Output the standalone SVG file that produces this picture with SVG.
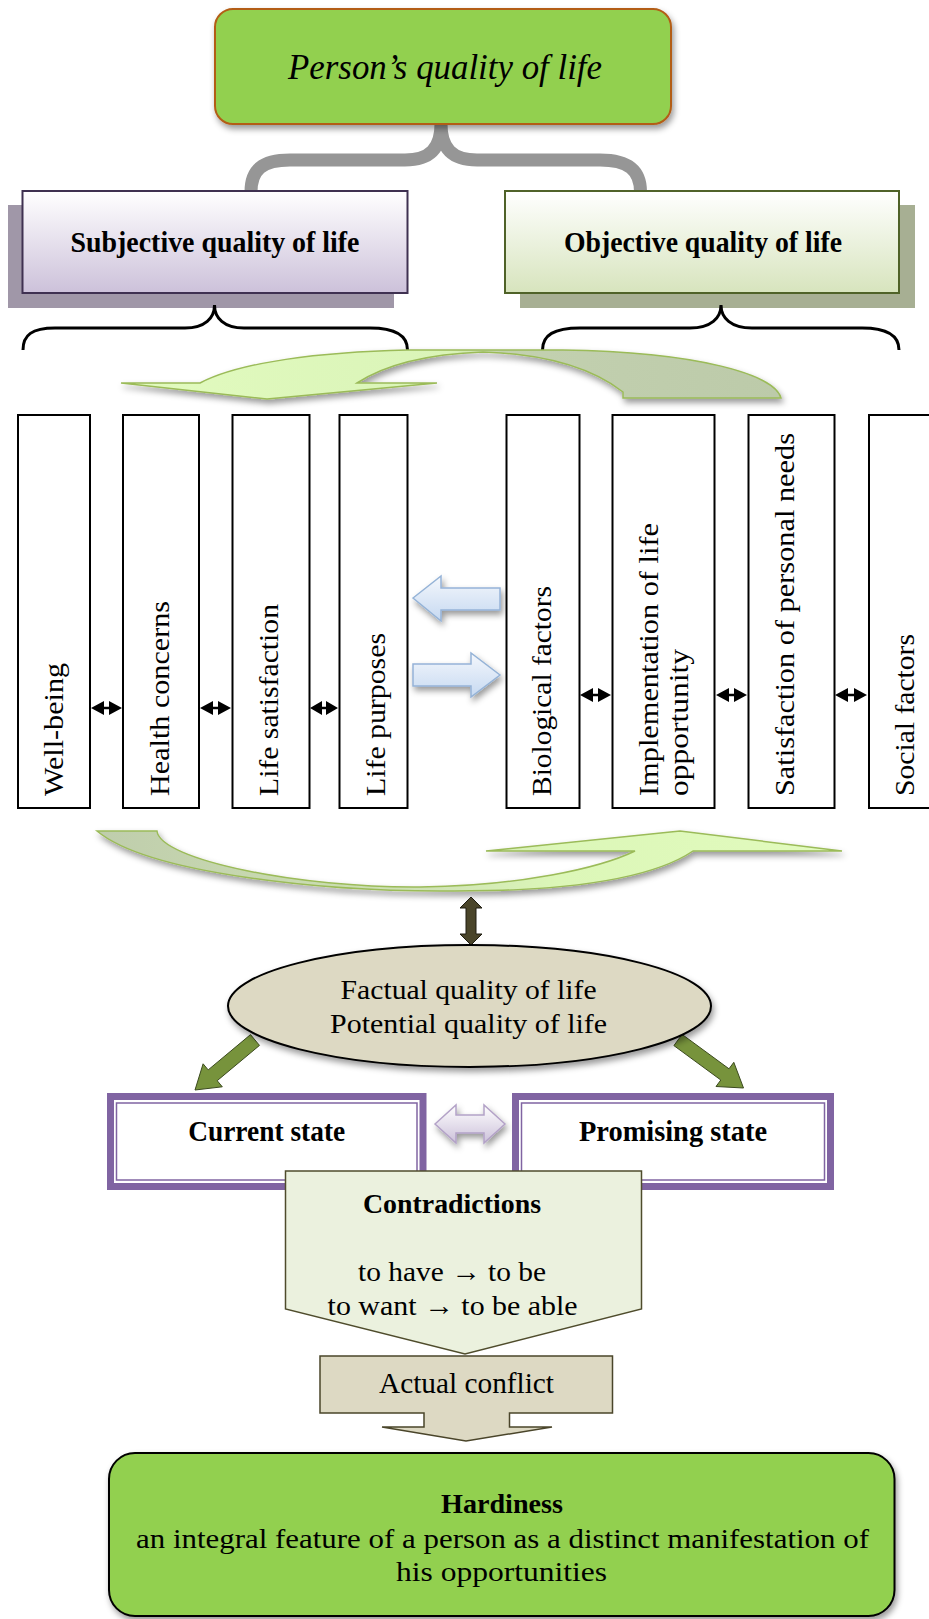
<svg xmlns="http://www.w3.org/2000/svg" width="929" height="1619" viewBox="0 0 929 1619">
<defs>
<style>
.t{font-family:"Liberation Serif","DejaVu Serif",serif;fill:#000}
.c{text-anchor:middle}
.b{font-weight:bold}
.vt{font-size:28px}
.vbox{fill:#fff;stroke:#000;stroke-width:2}
.dbl{fill:#000}
.state-o{fill:#fff;stroke:#8064a2;stroke-width:7}
.state-i{fill:none;stroke:#8064a2;stroke-width:1.5}
.blue{fill:url(#gBlue);stroke:#95b3d7;stroke-width:1.5}
.garr{fill:#77933c;stroke:#3b4a1e;stroke-width:1}
</style>
<filter id="sh" x="-15%" y="-15%" width="135%" height="150%">
<feDropShadow dx="2" dy="4" stdDeviation="3" flood-color="#000" flood-opacity="0.4"/>
</filter>
<linearGradient id="gSub" x1="0" y1="0" x2="0" y2="1">
<stop offset="0" stop-color="#ffffff"/><stop offset="1" stop-color="#ccc1da"/>
</linearGradient>
<linearGradient id="gObj" x1="0" y1="0" x2="0" y2="1">
<stop offset="0" stop-color="#ffffff"/><stop offset="1" stop-color="#d7e4bd"/>
</linearGradient>
<linearGradient id="gBlue" x1="0" y1="0" x2="0" y2="1">
<stop offset="0" stop-color="#f4f7fc"/><stop offset="1" stop-color="#c6d9f1"/>
</linearGradient>
<linearGradient id="gPur" x1="0" y1="0" x2="0" y2="1">
<stop offset="0" stop-color="#ffffff"/><stop offset="1" stop-color="#ccc1da"/>
</linearGradient>
<linearGradient id="gTop" gradientUnits="userSpaceOnUse" x1="121" y1="0" x2="781" y2="0">
<stop offset="0" stop-color="#e2fbbf"/><stop offset="0.5" stop-color="#daf4b8"/><stop offset="0.58" stop-color="#c3d1b0"/><stop offset="1" stop-color="#bccaa9"/>
</linearGradient>
<linearGradient id="gBot" gradientUnits="userSpaceOnUse" x1="97" y1="0" x2="842" y2="0">
<stop offset="0" stop-color="#bfcdac"/><stop offset="0.45" stop-color="#cfe3b4"/><stop offset="0.62" stop-color="#dcf7b8"/><stop offset="1" stop-color="#e2fbbe"/>
</linearGradient>
</defs>

<g id="connectors">
<path id="brace-top" d="M251,192 C251,170 262,160 290,160 L405,160 C430,160 441,148 441,124 C441,148 452,160 477,160 L600,160 C628,160 640.5,170 640.5,192" fill="none" stroke="#969696" stroke-width="13"/>
</g>

<g id="title">
<rect x="215" y="9" width="456" height="115" rx="18" fill="#92d050" stroke="#b35d15" stroke-width="2" filter="url(#sh)"/>
<text class="t c" x="445" y="79" font-size="35" font-style="italic" textLength="314" lengthAdjust="spacingAndGlyphs">Person’s quality of life</text>
</g>

<g id="subjective">
<rect x="8" y="205" width="386" height="103" fill="#a097a8"/>
<rect x="22.5" y="191" width="385" height="102" fill="url(#gSub)" stroke="#3f3151" stroke-width="2"/>
<text class="t c b" x="215" y="252" font-size="29" textLength="289" lengthAdjust="spacingAndGlyphs">Subjective quality of life</text>
</g>

<g id="objective">
<rect x="520" y="205" width="395" height="103" fill="#a7af93"/>
<rect x="505" y="191" width="394" height="102" fill="url(#gObj)" stroke="#4f6228" stroke-width="2"/>
<text class="t c b" x="703" y="252" font-size="29" textLength="278" lengthAdjust="spacingAndGlyphs">Objective quality of life</text>
</g>

<g id="connectors2">
<path d="M23,350 C23,335 32,328 55,328 L185,328 C205,328 214.5,318 214.5,305 C214.5,318 224,328 244,328 L370,328 C396,328 407.5,336 407.5,350" fill="none" stroke="#000" stroke-width="3"/>
<path d="M542.5,350 C542.5,335 554,328 580,328 L690,328 C711,328 721,318 721,305 C721,318 731,328 752,328 L862,328 C888,328 899,336 899,350" fill="none" stroke="#000" stroke-width="3"/>
<path d="M267,399 L437,383 L357,383 Q400,355 483,352 Q575,355 623,392 L623,398 L781,398 C775,375 700,352 563,350 L407,350 C320,352 240,362 200,383 L121,383 Z" fill="url(#gTop)" stroke="#9bbb59" stroke-width="1.5" filter="url(#sh)"/>
<path d="M97,831 L157,831 C160,860 300,888 420,887 C520,886 600,868 635,851 L486,851 L680,831 L842,851 L693,851 C650,880 560,892 440,891 C330,891 150,875 97,831 Z" fill="url(#gBot)" stroke="#9bbb59" stroke-width="1.5" filter="url(#sh)"/>
<path class="dbl" d="M91,708 L104,701 L104,706.8 L109,706.8 L109,701 L122,708 L109,715 L109,709.2 L104,709.2 L104,715 Z"/>
<path class="dbl" d="M200,708 L213,701 L213,706.8 L218,706.8 L218,701 L231,708 L218,715 L218,709.2 L213,709.2 L213,715 Z"/>
<path class="dbl" d="M310,708 L322,701 L322,706.8 L326,706.8 L326,701 L338,708 L326,715 L326,709.2 L322,709.2 L322,715 Z"/>
<path class="dbl" d="M580,695 L593,688 L593,693.8 L598,693.8 L598,688 L611,695 L598,702 L598,696.2 L593,696.2 L593,702 Z"/>
<path class="dbl" d="M716,695 L729,688 L729,693.8 L734,693.8 L734,688 L747,695 L734,702 L734,696.2 L729,696.2 L729,702 Z"/>
<path class="dbl" d="M835,695 L848,688 L848,693.8 L854,693.8 L854,688 L867,695 L854,702 L854,696.2 L848,696.2 L848,702 Z"/>
<path class="blue" filter="url(#sh)" d="M413,598 L441,576 L441,588 L500,588 L500,610 L441,610 L441,621 Z"/>
<path class="blue" filter="url(#sh)" d="M413,664 L471,664 L471,653 L500,675 L471,697 L471,686 L413,686 Z"/>
<path d="M471,897 L482,908 L476,908 L476,934 L482,934 L471,945 L460,934 L466,934 L466,908 L460,908 Z" fill="#4a452a" stroke="#1e1c10" stroke-width="1"/>
<polygon class="garr" points="250.5,1034.6 208.2,1069.9 203.1,1063.8 195,1090 222.3,1086.8 217.2,1080.7 259.5,1045.4"/>
<polygon class="garr" points="682.1,1034.4 729,1068.8 733.8,1062.3 743.5,1088 716,1086.5 720.8,1080 673.9,1045.6"/>
<path d="M435,1124 L456,1105 L456,1115 L484,1115 L484,1105 L505,1124 L484,1143 L484,1133 L456,1133 L456,1143 Z" fill="url(#gPur)" stroke="#b3a2c7" stroke-width="1.5" filter="url(#sh)"/>
</g>

<g id="well-being">
<rect class="vbox" x="18" y="415" width="72" height="393"/>
<text class="t vt" transform="translate(63,796) rotate(-90)" textLength="133" lengthAdjust="spacingAndGlyphs">Well-being</text>
</g>
<g id="health-concerns">
<rect class="vbox" x="123" y="415" width="76" height="393"/>
<text class="t vt" transform="translate(169,796) rotate(-90)" textLength="195" lengthAdjust="spacingAndGlyphs">Health concerns</text>
</g>
<g id="life-satisfaction">
<rect class="vbox" x="232.5" y="415" width="77" height="393"/>
<text class="t vt" transform="translate(278,796) rotate(-90)" textLength="192" lengthAdjust="spacingAndGlyphs">Life satisfaction</text>
</g>
<g id="life-purposes">
<rect class="vbox" x="339.5" y="415" width="68" height="393"/>
<text class="t vt" transform="translate(385,796) rotate(-90)" textLength="163" lengthAdjust="spacingAndGlyphs">Life purposes</text>
</g>
<g id="biological-factors">
<rect class="vbox" x="506.5" y="415" width="73" height="393"/>
<text class="t vt" transform="translate(551,796) rotate(-90)" textLength="210" lengthAdjust="spacingAndGlyphs">Biological factors</text>
</g>
<g id="implementation">
<rect class="vbox" x="612.5" y="415" width="102" height="393"/>
<text class="t vt" transform="translate(658,796) rotate(-90)" textLength="273" lengthAdjust="spacingAndGlyphs">Implementation of life</text>
<text class="t vt" transform="translate(688,796) rotate(-90)" textLength="147" lengthAdjust="spacingAndGlyphs">opportunity</text>
</g>
<g id="personal-needs">
<rect class="vbox" x="748.5" y="415" width="86" height="393"/>
<text class="t vt" transform="translate(794,796) rotate(-90)" textLength="363" lengthAdjust="spacingAndGlyphs">Satisfaction of personal needs</text>
</g>
<g id="social-factors">
<rect class="vbox" x="869" y="415" width="80" height="393"/>
<text class="t vt" transform="translate(914,796) rotate(-90)" textLength="162" lengthAdjust="spacingAndGlyphs">Social factors</text>
</g>

<g id="quality-ellipse">
<ellipse cx="469.5" cy="1006" rx="241.5" ry="61" fill="#ddd9c3" stroke="#000" stroke-width="2" filter="url(#sh)"/>
<text class="t c" x="468.6" y="999" font-size="28" textLength="256" lengthAdjust="spacingAndGlyphs">Factual quality of life</text>
<text class="t c" x="468.6" y="1033" font-size="28" textLength="277" lengthAdjust="spacingAndGlyphs">Potential quality of life</text>
</g>

<g id="current-state">
<rect class="state-o" x="110.5" y="1096.5" width="312.5" height="90"/>
<rect class="state-i" x="116.5" y="1103" width="300.5" height="77"/>
<text class="t c b" x="266.7" y="1140.5" font-size="29" textLength="157" lengthAdjust="spacingAndGlyphs">Current state</text>
</g>
<g id="promising-state">
<rect class="state-o" x="515.5" y="1096.5" width="315" height="90"/>
<rect class="state-i" x="521.5" y="1103" width="303" height="77"/>
<text class="t c b" x="673" y="1140.5" font-size="29" textLength="188" lengthAdjust="spacingAndGlyphs">Promising state</text>
</g>

<g id="contradictions">
<path d="M285.5,1171 L641.5,1171 L641.5,1309 L465,1354 L285.5,1309 Z" fill="#ebf1de" stroke="#4f4c2c" stroke-width="1.5"/>
<text class="t c b" x="452" y="1213" font-size="28" textLength="178" lengthAdjust="spacingAndGlyphs">Contradictions</text>
<text class="t c" x="452" y="1281" font-size="28" textLength="188" lengthAdjust="spacingAndGlyphs">to have → to be</text>
<text class="t c" x="452.6" y="1315" font-size="28" textLength="250" lengthAdjust="spacingAndGlyphs">to want → to be able</text>
</g>

<g id="actual-conflict">
<path d="M320,1356 H612.5 V1413 H509.5 V1427 H552 L466,1441 L382,1427 H424 V1413 H320 Z" fill="#ddd9c3" stroke="#4a452a" stroke-width="1.5"/>
<text class="t c" x="466.5" y="1393" font-size="29" textLength="175" lengthAdjust="spacingAndGlyphs">Actual conflict</text>
</g>

<g id="hardiness">
<rect x="109" y="1453" width="785.5" height="163" rx="26" fill="#92d050" stroke="#000" stroke-width="2" filter="url(#sh)"/>
<text class="t c b" x="502" y="1513" font-size="28" textLength="122" lengthAdjust="spacingAndGlyphs">Hardiness</text>
<text class="t c" x="502.5" y="1548" font-size="28" textLength="733" lengthAdjust="spacingAndGlyphs">an integral feature of a person as a distinct manifestation of</text>
<text class="t c" x="501.5" y="1581" font-size="28" textLength="211" lengthAdjust="spacingAndGlyphs">his opportunities</text>
</g>
</svg>
